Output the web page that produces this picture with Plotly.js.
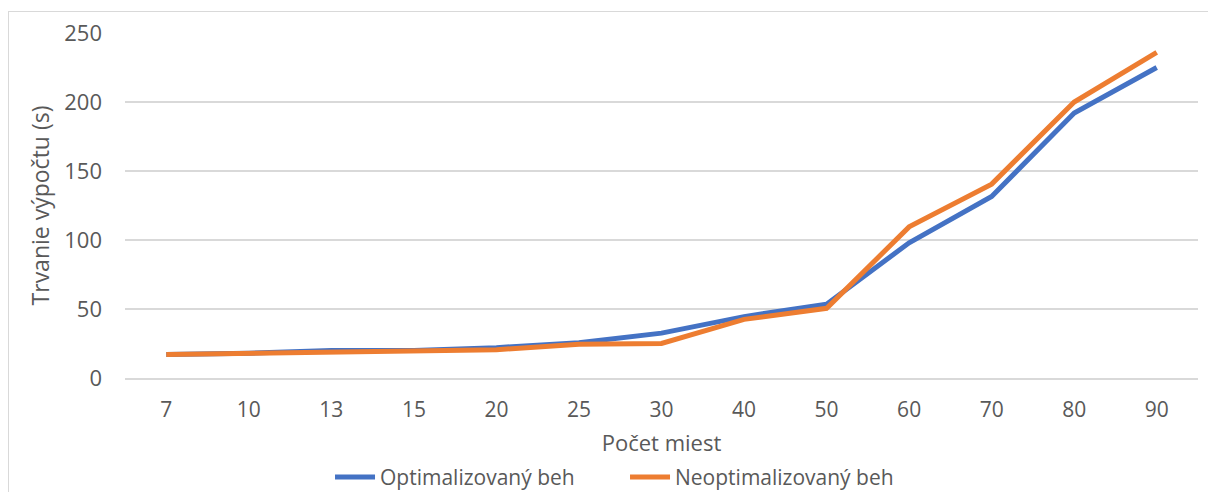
<!DOCTYPE html>
<html>
<head>
<meta charset="utf-8">
<script src="https://cdn.plot.ly/plotly-3.0.1.min.js"></script>
<style>
  html, body { margin: 0; padding: 0; background: #ffffff; }
  #wrap { position: relative; width: 1208px; height: 492px; overflow: hidden; }
  #chart { position: absolute; left: 0; top: 0; width: 1208px; height: 492px; }
  #frame { position: absolute; left: 8px; top: 11px; width: 1400px; height: 700px;
           border: 1px solid #d9d9d9; pointer-events: none; }
</style>
</head>
<body>
<div id="wrap">
  <div id="chart"></div>
  <div id="frame"></div>
</div>
<script>
const categories = ["7", "10", "13", "15", "20", "25", "30", "40", "50", "60", "70", "80", "90"];
const optimized = [17, 18, 20, 20, 22, 25.5, 32.5, 44.5, 53.5, 98, 131.5, 192, 225];
const unoptimized = [17, 18, 18.5, 19.5, 20.5, 24.5, 25, 42.5, 50.5, 109.5, 140.5, 200, 236];
const seriesNames = ["Optimalizovaný beh", "Neoptimalizovaný beh"];
const xTitle = "Počet miest";
const yTitle = "Trvanie výpočtu (s)";

const fontFam = "'Open Sans', 'Noto Sans', sans-serif";
const textColor = "#595959";

const traces = [
  {
    x: categories, y: optimized, name: seriesNames[0], type: "scatter", mode: "lines",
    line: { color: "#4472C4", width: 5, shape: "linear" }
  },
  {
    x: categories, y: unoptimized, name: seriesNames[1], type: "scatter", mode: "lines",
    line: { color: "#ED7D31", width: 5, shape: "linear" }
  }
];

const layout = {
  width: 1208, height: 492,
  margin: { l: 125, r: 10, t: 33, b: 114 },
  paper_bgcolor: "rgba(0,0,0,0)",
  plot_bgcolor: "rgba(0,0,0,0)",
  font: { family: fontFam, color: textColor, size: 21 },
  showlegend: true,
  legend: {
    orientation: "h", xref: "paper", x: 0.466, xanchor: "center",
    yref: "container", y: 0.03, yanchor: "middle",
    font: { family: fontFam, color: textColor, size: 21 },
    itemwidth: 40, entrywidth: 240, entrywidthmode: "pixels",
    tracegroupgap: 0, traceorder: "normal", bgcolor: "rgba(0,0,0,0)"
  },
  xaxis: {
    type: "category",
    range: [-0.5, 12.5],
    automargin: false,
    title: { text: xTitle, font: { family: fontFam, color: textColor, size: 22 }, standoff: 24 },
    tickfont: { family: fontFam, color: textColor, size: 21 },
    showgrid: false, zeroline: false,
    showline: true, linecolor: "#d9d9d9", linewidth: 1.5,
    ticks: "", ticklabelstandoff: 12,
    fixedrange: true
  },
  yaxis: {
    range: [0, 250], dtick: 50, tick0: 0,
    automargin: false,
    title: { text: yTitle, font: { family: fontFam, color: textColor, size: 23 }, standoff: 8 },
    tickfont: { family: fontFam, color: textColor, size: 22 },
    showgrid: true, gridcolor: "#d9d9d9", gridwidth: 1.5,
    zeroline: false, showline: false, ticks: "", ticklabelstandoff: 22,
    fixedrange: true
  }
};

Plotly.newPlot("chart", traces, layout, { displayModeBar: false, staticPlot: true });
</script>
</body>
</html>
